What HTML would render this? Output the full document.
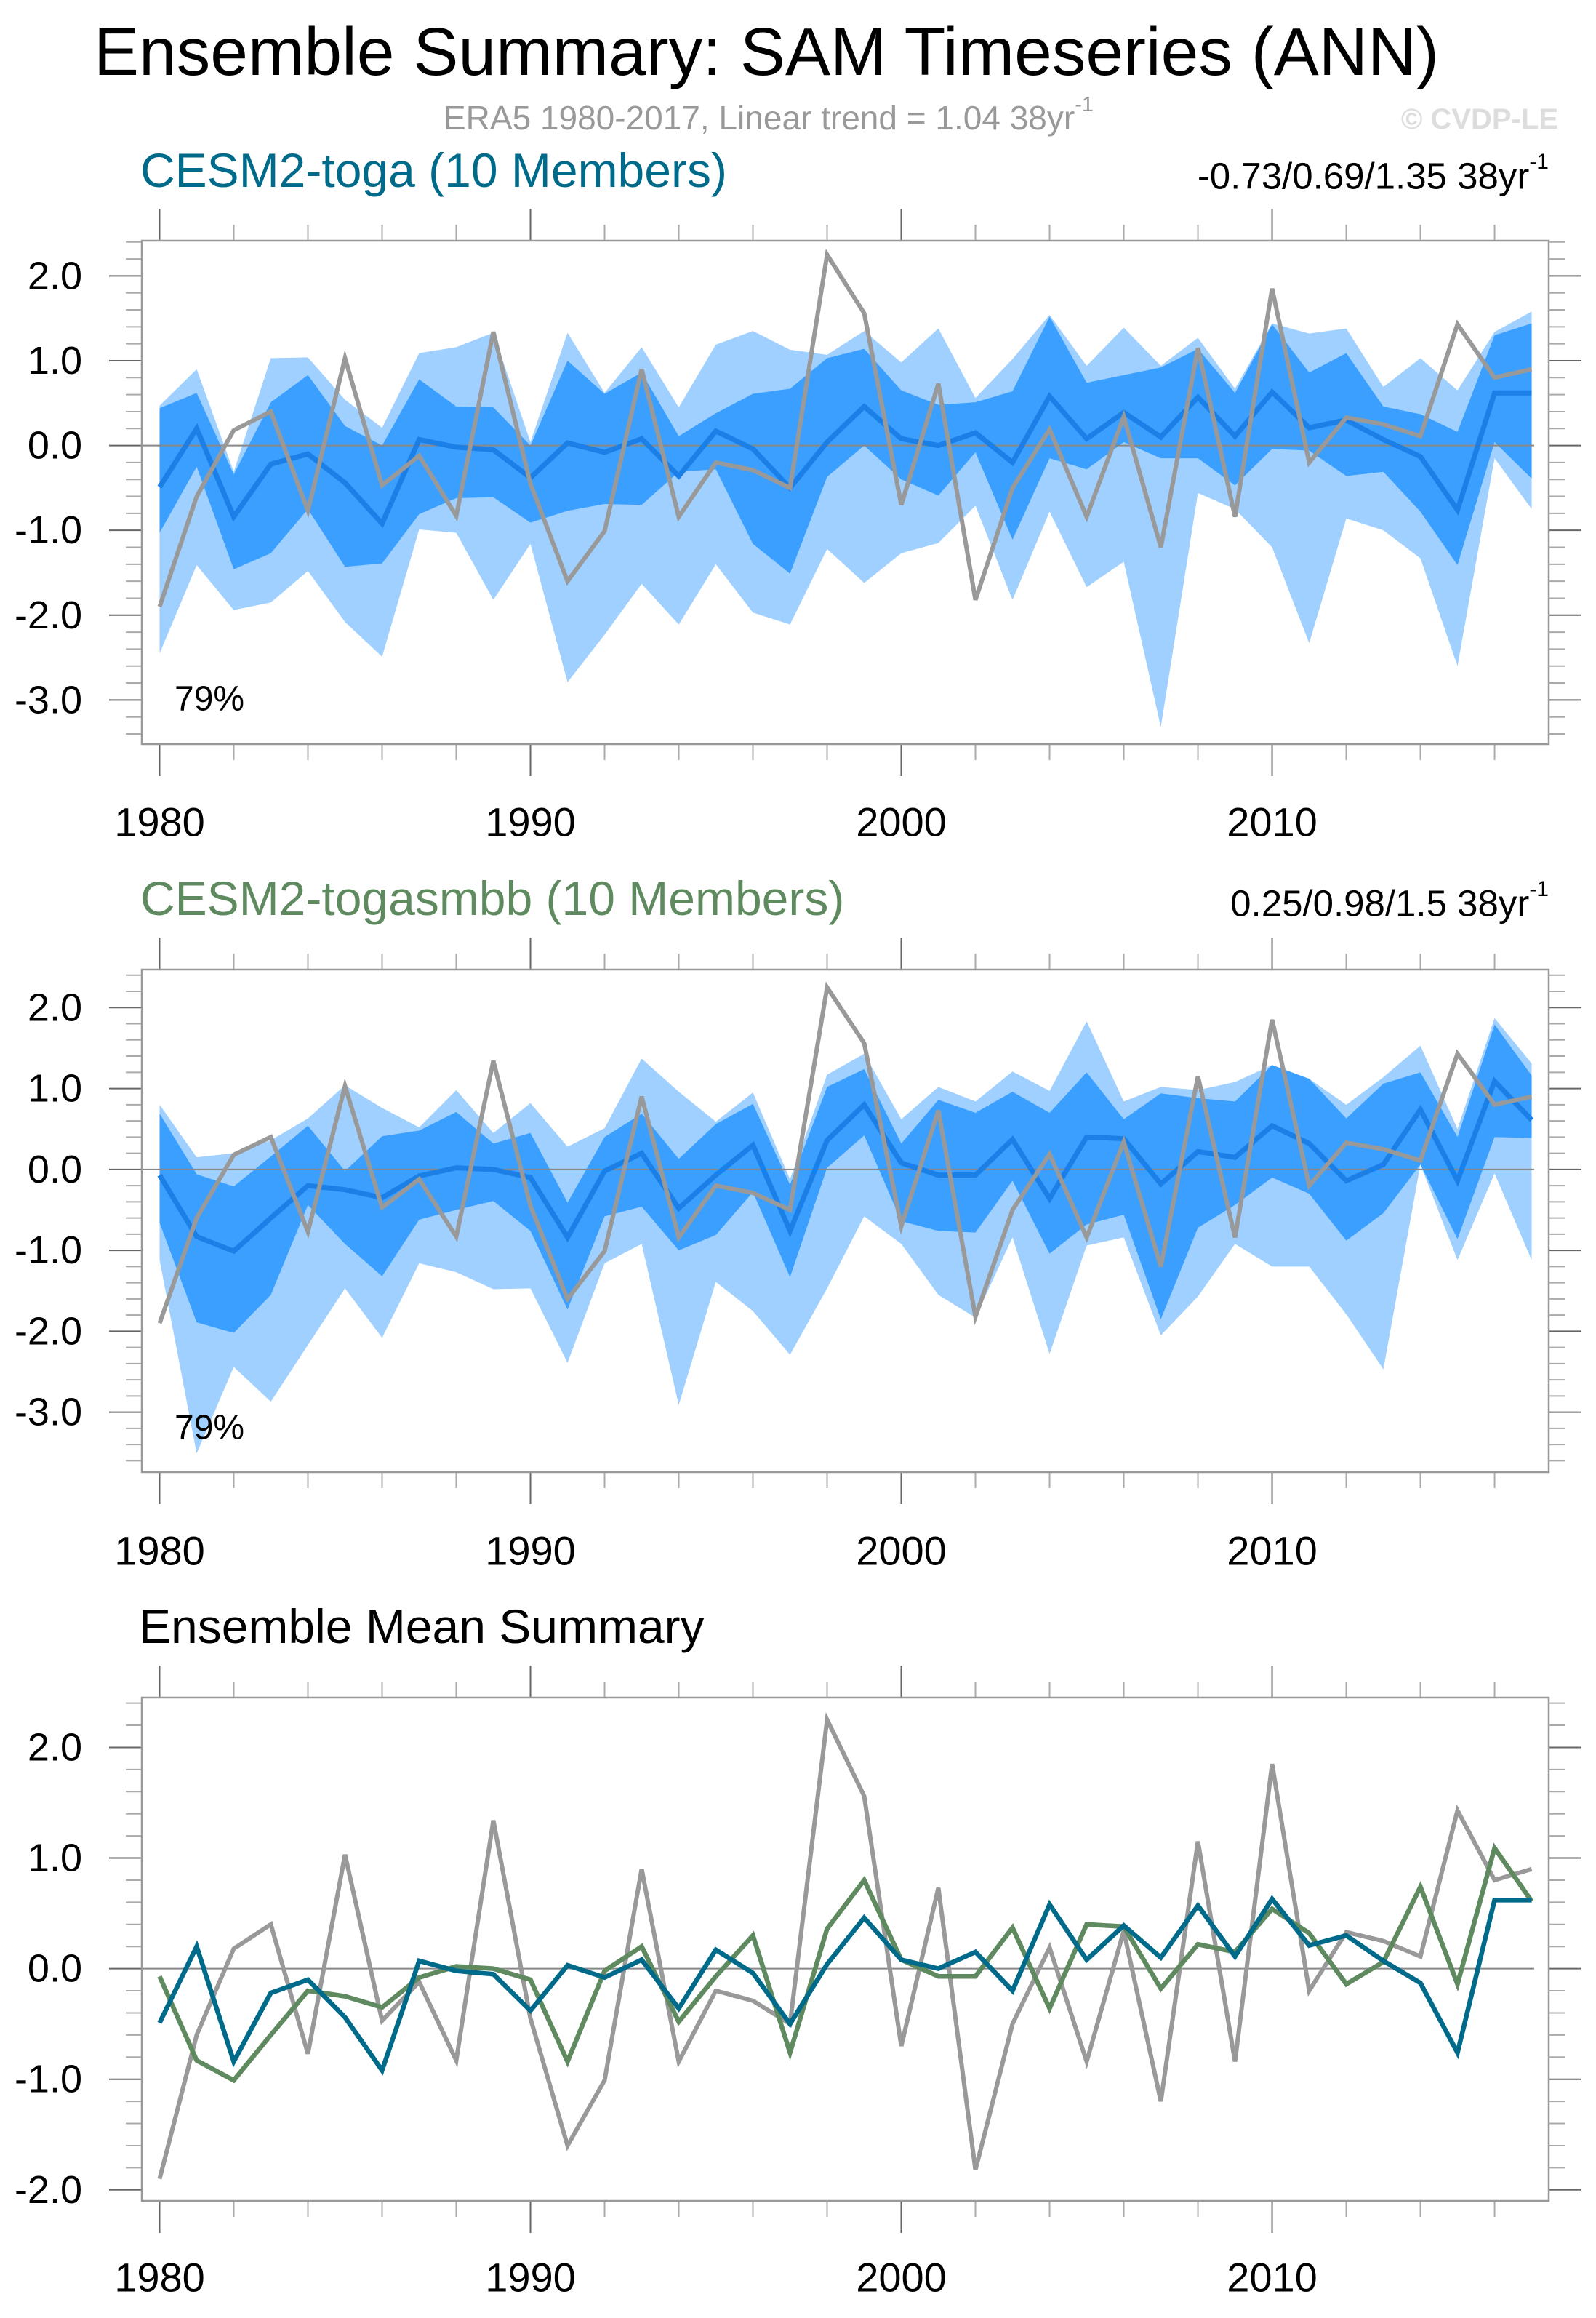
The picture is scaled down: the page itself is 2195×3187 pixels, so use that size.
<!DOCTYPE html>
<html><head><meta charset="utf-8"><style>
html,body{margin:0;padding:0;background:#fff;}
svg{display:block;font-family:"Liberation Sans",Arial,sans-serif;}
</style></head><body>
<svg id="fig" width="2195" height="3187" viewBox="0 0 2195 3187" xmlns="http://www.w3.org/2000/svg">
<text x="1054" y="71" font-size="93" text-anchor="middle" dominant-baseline="central" fill="#000">Ensemble Summary: SAM Timeseries (ANN)</text>
<text x="1057" y="162" font-size="46" text-anchor="middle" dominant-baseline="central" fill="#999">ERA5 1980-2017, Linear trend = 1.04 38yr<tspan dy="-18" font-size="29">-1</tspan></text>
<text x="2143" y="164" font-size="40" font-weight="bold" text-anchor="end" dominant-baseline="central" fill="#ddd">© CVDP-LE</text>
<text x="193" y="234" font-size="66" dominant-baseline="central" fill="#006a8a">CESM2-toga (10 Members)</text>
<text x="2130" y="242" font-size="51" text-anchor="end" dominant-baseline="central" fill="#000">-0.73/0.69/1.35 38yr<tspan dy="-20" font-size="30">-1</tspan></text>
<text x="193" y="1235" font-size="66" dominant-baseline="central" fill="#5f8a60">CESM2-togasmbb (10 Members)</text>
<text x="2130" y="1242" font-size="51" text-anchor="end" dominant-baseline="central" fill="#000">0.25/0.98/1.5 38yr<tspan dy="-20" font-size="30">-1</tspan></text>
<text x="191" y="2236" font-size="66" dominant-baseline="central" fill="#000">Ensemble Mean Summary</text>
<g id="plots"></g>
</svg>
<script>
const years = [];
for (let y = 1980; y <= 2017; y++) years.push(y);
const era5 = [-1.90,-0.60,0.18,0.40,-0.77,1.03,-0.47,-0.12,-0.83,1.34,-0.45,-1.60,-1.01,0.90,-0.84,-0.20,-0.29,-0.50,2.25,1.56,-0.70,0.73,-1.82,-0.50,0.19,-0.84,0.34,-1.20,1.15,-0.84,1.85,-0.20,0.33,0.25,0.11,1.43,0.80,0.90];
const togaMean = [-0.49,0.20,-0.84,-0.22,-0.10,-0.44,-0.92,0.07,-0.02,-0.05,-0.38,0.03,-0.08,0.08,-0.36,0.17,-0.04,-0.50,0.04,0.46,0.08,0.00,0.15,-0.20,0.58,0.08,0.39,0.10,0.57,0.11,0.63,0.21,0.30,0.07,-0.13,-0.76,0.62,0.62];
const smbbMean = [-0.07,-0.83,-1.01,-0.60,-0.20,-0.25,-0.35,-0.08,0.02,0.00,-0.10,-0.84,-0.02,0.20,-0.48,-0.07,0.30,-0.76,0.36,0.80,0.08,-0.07,-0.07,0.37,-0.36,0.40,0.38,-0.18,0.22,0.15,0.54,0.32,-0.14,0.06,0.74,-0.14,1.09,0.61];
const togaOuterHi = [0.47,0.90,-0.31,1.03,1.04,0.54,0.21,1.09,1.16,1.33,0.04,1.33,0.62,1.16,0.45,1.19,1.35,1.13,1.07,1.35,0.98,1.38,0.56,1.02,1.54,0.94,1.39,0.94,1.27,0.67,1.44,1.32,1.38,0.69,1.03,0.65,1.34,1.58];
const togaInnerHi = [0.44,0.62,-0.34,0.51,0.83,0.23,0.00,0.78,0.46,0.45,0.00,1.00,0.61,0.86,0.11,0.38,0.61,0.67,1.03,1.14,0.65,0.48,0.51,0.64,1.52,0.74,0.83,0.92,1.14,0.62,1.43,0.86,1.09,0.46,0.37,0.16,1.30,1.44];
const togaInnerLo = [-1.03,-0.25,-1.46,-1.27,-0.75,-1.43,-1.39,-0.81,-0.62,-0.61,-0.91,-0.77,-0.69,-0.70,-0.31,-0.28,-1.16,-1.51,-0.37,0.00,-0.40,-0.59,-0.08,-1.11,-0.15,-0.28,0.04,-0.15,-0.15,-0.47,-0.04,-0.06,-0.36,-0.31,-0.78,-1.41,0.04,-0.39];
const togaOuterLo = [-2.45,-1.41,-1.94,-1.85,-1.48,-2.08,-2.49,-0.99,-1.03,-1.82,-1.16,-2.79,-2.23,-1.63,-2.11,-1.40,-1.97,-2.11,-1.22,-1.62,-1.27,-1.15,-0.71,-1.82,-0.78,-1.67,-1.37,-3.32,-0.56,-0.75,-1.20,-2.33,-0.86,-1.00,-1.33,-2.60,-0.15,-0.75];
const smbbOuterHi = [0.80,0.15,0.20,0.36,0.63,1.04,0.76,0.52,0.98,0.45,0.82,0.28,0.51,1.37,0.96,0.59,0.95,-0.12,1.17,1.43,0.62,1.02,0.84,1.21,0.97,1.83,0.84,1.02,0.98,1.08,1.29,1.12,0.80,1.14,1.53,0.50,1.87,1.31];
const smbbInnerHi = [0.69,-0.06,-0.21,0.16,0.54,-0.02,0.41,0.48,0.71,0.32,0.45,-0.41,0.40,0.69,0.13,0.56,0.81,-0.19,1.02,1.24,0.32,0.86,0.70,0.96,0.70,1.20,0.62,0.94,0.88,0.84,1.29,1.12,0.63,1.06,1.20,0.40,1.79,1.16];
const smbbInnerLo = [-0.66,-1.89,-2.02,-1.55,-0.44,-0.92,-1.32,-0.62,-0.50,-0.39,-0.76,-1.73,-0.58,-0.46,-1.00,-0.81,-0.28,-1.33,0.02,0.42,-0.64,-0.76,-0.78,-0.14,-1.04,-0.68,-0.56,-1.85,-0.72,-0.44,-0.10,-0.30,-0.88,-0.54,0.06,-0.86,0.40,0.39];
const smbbOuterLo = [-1.12,-3.51,-2.44,-2.87,-2.17,-1.47,-2.08,-1.16,-1.27,-1.48,-1.47,-2.39,-1.16,-0.92,-2.91,-1.39,-1.75,-2.29,-1.47,-0.58,-0.92,-1.55,-1.83,-0.84,-2.28,-0.94,-0.84,-2.05,-1.57,-0.92,-1.20,-1.20,-1.79,-2.47,0.06,-1.12,-0.05,-1.12];
const yTickLabels = ["-3.0","-2.0","-1.0","0.0","1.0","2.0"];
const xTickLabels = ["1980","1990","2000","2010"];

const NS = "http://www.w3.org/2000/svg";
const root = document.getElementById("plots");
const X0 = 195, X1 = 2130, XMIN = 1979.52, XMAX = 2017.46;
function xs(v){ return X0 + (v - XMIN) / (XMAX - XMIN) * (X1 - X0); }
function mk(tag, attrs, parent){ const e = document.createElementNS(NS, tag); for (const k in attrs) e.setAttribute(k, attrs[k]); (parent||root).appendChild(e); return e; }

function panel(id, top, bot, ymin, ymax, labelY){
  const g = mk("g", {});
  
  
  const ys = v => bot - (v - ymin) / (ymax - ymin) * (bot - top);
  for (let k = Math.ceil(ymin*5); k <= Math.floor(ymax*5); k++){
    const v = k/5, y = ys(v), major = (k % 5 === 0);
    const len = major ? 45 : 22;
    const t1 = mk("line", {x1:X0-len, x2:X0, y1:y, y2:y, stroke: major?"#666":"#aaa", "stroke-width":2}, g);
    
    
    const t2 = mk("line", {x1:X1, x2:X1+len, y1:y, y2:y, stroke: major?"#666":"#aaa", "stroke-width":2}, g);
    
    
  }
  yTickLabels.forEach(s => {
    const v = parseFloat(s);
    if (v < ymin || v > ymax) return;
    const t = mk("text", {x:113, y:ys(v), "font-size":54, "text-anchor":"end", "dominant-baseline":"central", fill:"#000"}, g);
    
    
    t.textContent = s;
  });
  for (let yr = 1980; yr <= 2016; yr += 2){
    const x = xs(yr), major = (yr % 10 === 0);
    const len = major ? 44 : 22;
    const a = mk("line", {x1:x, x2:x, y1:top-len, y2:top, stroke: major?"#666":"#aaa", "stroke-width":2}, g);
    
    
    const b = mk("line", {x1:x, x2:x, y1:bot, y2:bot+len, stroke: major?"#666":"#aaa", "stroke-width":2}, g);
    
    
  }
  xTickLabels.forEach(s => {
    const t = mk("text", {x:xs(parseInt(s)), y:labelY, "font-size":56, "text-anchor":"middle", "dominant-baseline":"central", fill:"#000"}, g);
    
    
    t.textContent = s;
  });
  return {g, ys};
}
function band(g, ys, hi, lo, color, name){
  let d = "";
  years.forEach((yr,i)=>{ d += (i?"L":"M") + xs(yr) + "," + ys(hi[i]); });
  for (let i = years.length-1; i >= 0; i--) d += "L" + xs(years[i]) + "," + ys(lo[i]);
  const p = mk("path", {d: d+"Z", fill: color}, g);
  
  
}
function line(g, ys, vals, color, w, name){
  const pts = years.map((yr,i)=> xs(yr)+","+ys(vals[i])).join(" ");
  const p = mk("polyline", {points: pts, fill:"none", stroke: color, "stroke-width": w, "stroke-linejoin":"miter"}, g);
  
  
}
function zero(g, ys){
  const z = mk("line", {x1:X0, x2:X1-20, y1:ys(0), y2:ys(0), stroke:"#888", "stroke-width":2}, g);
  
  
}
function box(g, top, bot){
  const r = mk("rect", {x:X0, y:top, width:X1-X0, height:bot-top, fill:"none", stroke:"#999", "stroke-width":2.5}, g);
  
  
}
function pct(g, y){
  const t = mk("text", {x:240, y:y, "font-size":48, "dominant-baseline":"central", fill:"#000"}, g);
  
  
  t.textContent = "79%";
}

let P = panel("panel-cesm2-toga", 331, 1023, -3.52, 2.415, 1130);
band(P.g, P.ys, togaOuterHi, togaOuterLo, "#a0d0ff", "outer-spread-band");
band(P.g, P.ys, togaInnerHi, togaInnerLo, "#3a9fff", "inner-spread-band");
zero(P.g, P.ys);
line(P.g, P.ys, togaMean, "#1a7fe6", 7, "ensemble-mean-line");
line(P.g, P.ys, era5, "#999", 6, "era5-line");
box(P.g, 331, 1023);
pct(P.g, 961);

P = panel("panel-cesm2-togasmbb", 1333, 2024, -3.74, 2.47, 2132);
band(P.g, P.ys, smbbOuterHi, smbbOuterLo, "#a0d0ff", "outer-spread-band");
band(P.g, P.ys, smbbInnerHi, smbbInnerLo, "#3a9fff", "inner-spread-band");
zero(P.g, P.ys);
line(P.g, P.ys, smbbMean, "#1a7fe6", 7, "ensemble-mean-line");
line(P.g, P.ys, era5, "#999", 6, "era5-line");
box(P.g, 1333, 2024);
pct(P.g, 1963);

P = panel("panel-ensemble-mean-summary", 2334, 3026, -2.10, 2.45, 3131);
zero(P.g, P.ys);
line(P.g, P.ys, era5, "#999", 6, "era5-line");
line(P.g, P.ys, smbbMean, "#5f8a60", 6.5, "togasmbb-mean-line");
line(P.g, P.ys, togaMean, "#006a8a", 6.5, "toga-mean-line");
box(P.g, 2334, 3026);
</script>
</body></html>
